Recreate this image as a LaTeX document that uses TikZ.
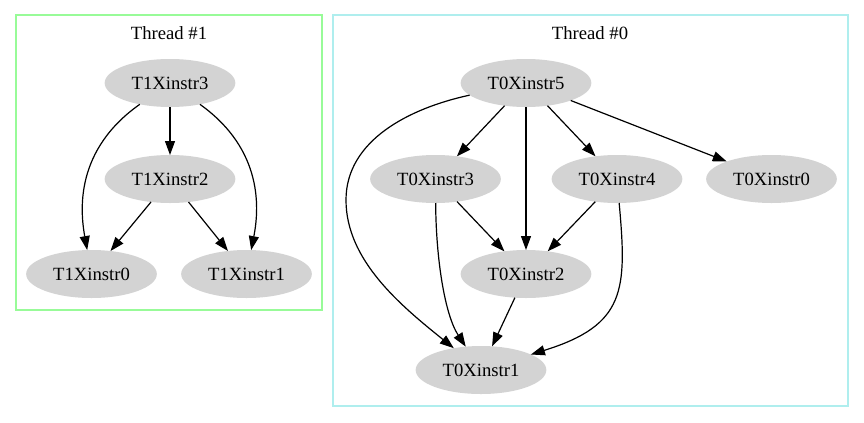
\documentclass[tikz,border=0pt]{standalone}
\usepackage{fontspec}
\setmainfont{Liberation Serif}
\usetikzlibrary{arrows.meta,shapes.geometric}
\definecolor{palegreen}{RGB}{152,251,152}
\definecolor{paleturq}{RGB}{175,238,238}
\definecolor{instrgray}{RGB}{211,211,211}

\begin{document}
\begin{tikzpicture}
  [x=0.75pt,y=-0.75pt,
  instr/.style={ellipse,fill=instrgray,draw=none,inner sep=0pt,
                  outer sep=0,minimum width=98pt,minimum height=36pt,
                  font=\fontsize{14pt}{16pt}\selectfont},
  title/.style={inner sep=0pt,font=\fontsize{14pt}{16pt}\selectfont},
  cluster/.style={line width=1pt},
  dep/.style={line width=0.9pt,-{Triangle[length=10.5pt,width=7.5pt]}}
                  ]
  \useasboundingbox (0,0) rectangle (864,422);

  % Thread #1
  \draw[cluster,palegreen] (16,15) rectangle (322,310);
  \node[title] (thread1) at (169,33) {Thread \#1};
  \node[instr] (t1instr3) at (170,83) {T1Xinstr3};
  \node[instr] (t1instr2) at (170,179) {T1Xinstr2};
  \node[instr] (t1instr0) at (91.5,274) {T1Xinstr0};
  \node[instr] (t1instr1) at (246.5,274) {T1Xinstr1};

  % Thread #0
  \draw[cluster,paleturq] (333,15) rectangle (848,406);
  \node[title] (thread0) at (590,33) {Thread \#0};
  \node[instr] (t0instr5) at (526,83) {T0Xinstr5};
  \node[instr] (t0instr3) at (435.5,179) {T0Xinstr3};
  \node[instr] (t0instr4) at (617,179) {T0Xinstr4};
  \node[instr] (t0instr0) at (771.5,179) {T0Xinstr0};
  \node[instr] (t0instr2) at (526,274) {T0Xinstr2};
  \node[instr] (t0instr1) at (481,370) {T0Xinstr1};

  \draw[dep] (t1instr3) to (t1instr2);
  \draw[dep] (t1instr2) to (t1instr0);
  \draw[dep] (t1instr2) to (t1instr1);
  \draw[dep] (t1instr3) .. controls (75,150) and (80,210) .. (t1instr0);
  \draw[dep] (t1instr3) .. controls (264,150) and (259,210) .. (t1instr1);

  \draw[dep] (t0instr5) to (t0instr3);
  \draw[dep] (t0instr5) to (t0instr2);
  \draw[dep] (t0instr5) to (t0instr4);
  \draw[dep] (t0instr5) to (t0instr0);
  \draw[dep] (t0instr3) to (t0instr2);
  \draw[dep] (t0instr4) to (t0instr2);
  \draw[dep] (t0instr2) to (t0instr1);
  \draw[dep] (t0instr5) .. controls (410,108) and (346,140) .. (346,200)
                        .. controls (346,260) and (400,305) .. (t0instr1);
  \draw[dep] (t0instr3) .. controls (436,260) and (445,315) .. (t0instr1);
  \draw[dep] (t0instr4) .. controls (627,290) and (626,325) .. (t0instr1);
\end{tikzpicture}
\end{document}
